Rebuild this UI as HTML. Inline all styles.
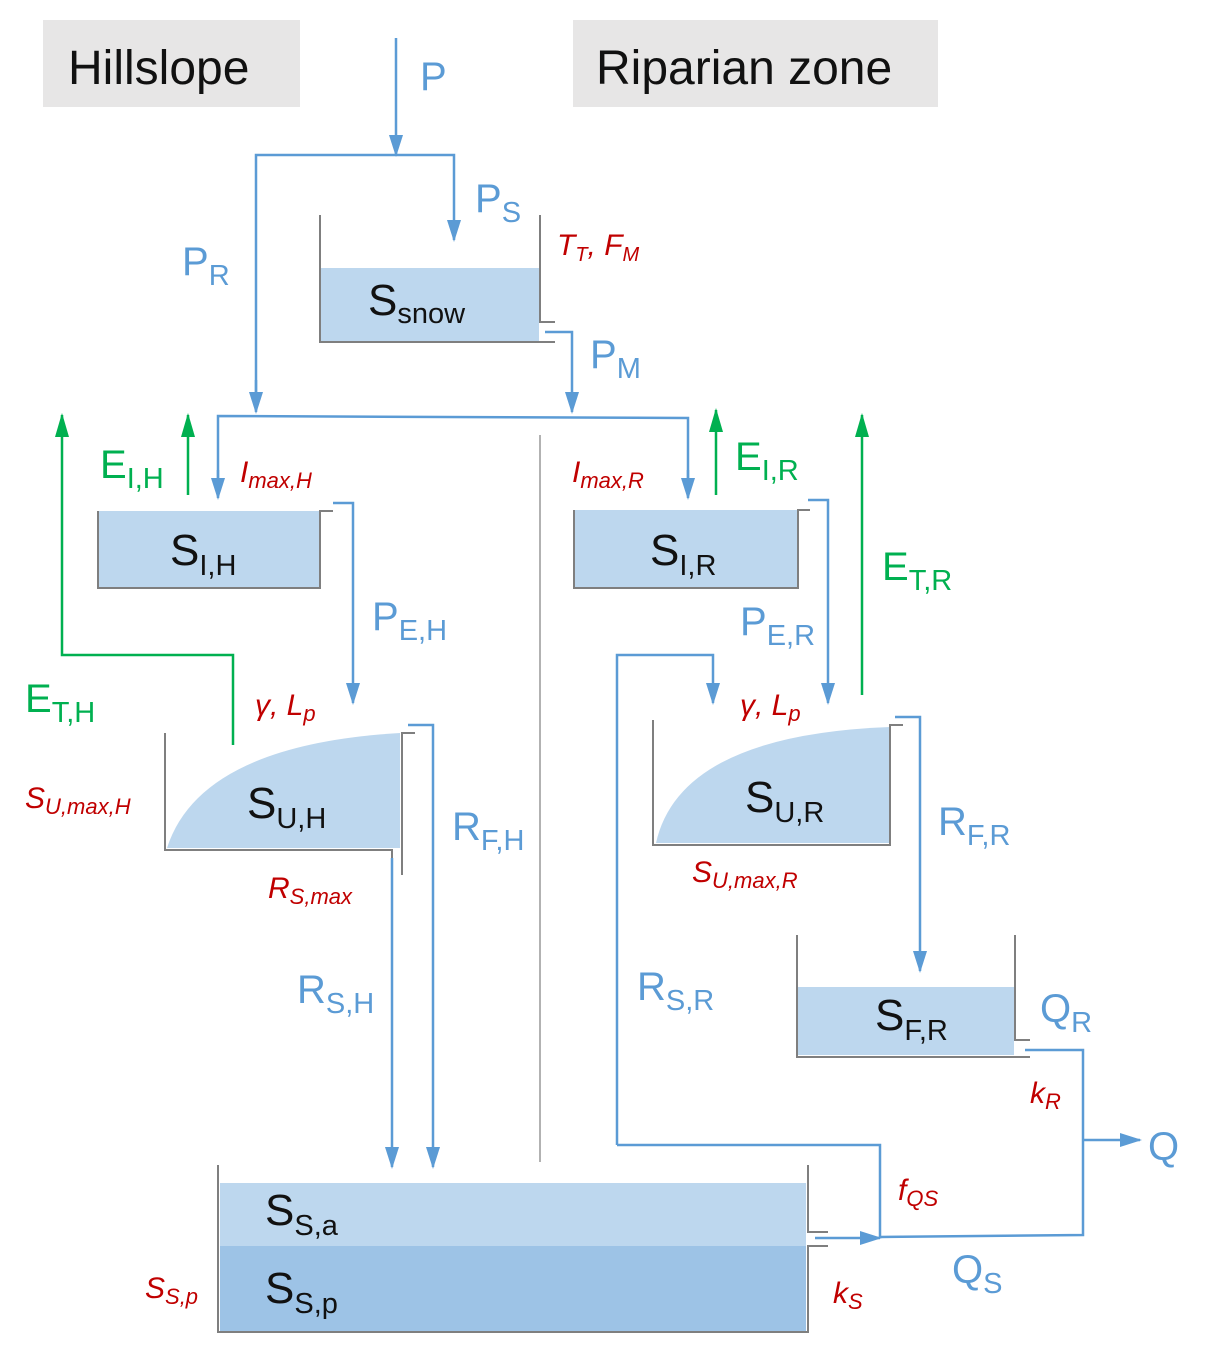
<!DOCTYPE html>
<html><head><meta charset="utf-8"><style>
html,body{margin:0;padding:0;background:#fff;}
svg{display:block;font-family:"Liberation Sans",sans-serif;}
.b{stroke:#5b9bd5;stroke-width:2.5;fill:none}
.g{stroke:#00b050;stroke-width:2.5;fill:none}
.k{stroke:#7f7f7f;stroke-width:2;fill:none}
.tb{fill:#5b9bd5;font-size:40px}
.tg{fill:#00b050;font-size:40px}
.tr{fill:#c00000;font-size:30px;font-style:italic}
.tk{fill:#111;font-size:44px}
.s{font-size:29px}
</style></head><body>
<svg width="1211" height="1363" viewBox="0 0 1211 1363">
<defs>
<marker id="ab" markerWidth="22" markerHeight="14" refX="20" refY="7" orient="auto" markerUnits="userSpaceOnUse" viewBox="0 0 22 14"><path d="M0,0 L22,7 L0,14 z" fill="#5b9bd5"/></marker>
<marker id="ag" markerWidth="24" markerHeight="14" refX="22" refY="7" orient="auto" markerUnits="userSpaceOnUse" viewBox="0 0 24 14"><path d="M0,0 L24,7 L0,14 z" fill="#00b050"/></marker>
</defs>
<rect x="43" y="20" width="257" height="87" fill="#e7e6e6"/>
<text x="68" y="84" font-size="48" fill="#111">Hillslope</text>
<rect x="573" y="20" width="365" height="87" fill="#e7e6e6"/>
<text x="596" y="84" font-size="48" fill="#111">Riparian zone</text>

<line class="b" x1="396" y1="38" x2="396" y2="155" marker-end="url(#ab)"/>
<text class="tb" x="420" y="90">P</text>
<polyline class="b" points="256,410 256,155 454,155 454,240" marker-end="url(#ab)"/>
<line class="b" x1="256" y1="380" x2="256" y2="412" marker-end="url(#ab)"/>
<text class="tb" x="475" y="212">P<tspan class="s" dy="10">S</tspan></text>
<text class="tb" x="182" y="275">P<tspan class="s" dy="10">R</tspan></text>

<rect x="321" y="268" width="218" height="73" fill="#bdd7ee"/>
<polyline class="k" points="320,215 320,342 555,342"/>
<polyline class="k" points="540,215 540,322 555,322"/>
<text class="tk" x="368" y="315">S<tspan class="s" dy="8" font-size="31">snow</tspan></text>
<text class="tr" x="557" y="255">T<tspan font-size="20" dy="6">T</tspan><tspan dy="-6">, F</tspan><tspan font-size="20" dy="6">M</tspan></text>
<polyline class="b" points="545,332 572,332 572,412" marker-end="url(#ab)"/>
<text class="tb" x="590" y="368">P<tspan class="s" dy="10">M</tspan></text>

<polyline class="b" points="218,495 218,416 688,418 688,495"/>
<line class="b" x1="218" y1="470" x2="218" y2="498" marker-end="url(#ab)"/>
<line class="b" x1="688" y1="470" x2="688" y2="498" marker-end="url(#ab)"/>
<line x1="540" y1="435" x2="540" y2="1162" stroke="#999" stroke-width="1.5"/>

<rect x="99" y="511" width="220" height="76" fill="#bdd7ee"/>
<polyline class="k" points="98,511 98,588 320,588 320,511 333,511"/>
<text class="tk" x="170" y="565">S<tspan class="s" dy="10" font-size="31">I,H</tspan></text>
<line class="g" x1="188" y1="495" x2="188" y2="415" marker-end="url(#ag)"/>
<polyline class="g" points="233,745 233,655 62,655 62,415" marker-end="url(#ag)"/>
<text class="tg" x="100" y="478">E<tspan class="s" dy="10">I,H</tspan></text>
<text class="tr" x="240" y="482">I<tspan font-size="22" dy="6">max,H</tspan></text>
<polyline class="b" points="333,503 353,503 353,703" marker-end="url(#ab)"/>
<text class="tb" x="372" y="630">P<tspan class="s" dy="10">E,H</tspan></text>
<text class="tg" x="25" y="712">E<tspan class="s" dy="10">T,H</tspan></text>
<text class="tr" x="255" y="715">γ, L<tspan font-size="22" dy="6">p</tspan></text>

<path d="M167,848 Q200,745 400,733 L400,848 Z" fill="#bdd7ee"/>
<polyline class="k" points="165,733 165,850 392,850 392,875"/>
<polyline class="k" points="415,733 402,733 402,875"/>
<text class="tk" x="247" y="818">S<tspan class="s" dy="10" font-size="31">U,H</tspan></text>
<text class="tr" x="25" y="808">S<tspan font-size="22" dy="6">U,max,H</tspan></text>
<text class="tr" x="268" y="898">R<tspan font-size="22" dy="6">S,max</tspan></text>
<polyline class="b" points="408,725 433,725 433,1167" marker-end="url(#ab)"/>
<line class="b" x1="392" y1="858" x2="392" y2="1167" marker-end="url(#ab)"/>
<text class="tb" x="452" y="840">R<tspan class="s" dy="10">F,H</tspan></text>
<text class="tb" x="297" y="1003">R<tspan class="s" dy="10">S,H</tspan></text>

<rect x="575" y="510" width="222" height="77" fill="#bdd7ee"/>
<polyline class="k" points="574,510 574,588 798,588 798,510 810,510"/>
<text class="tk" x="650" y="565">S<tspan class="s" dy="10" font-size="31">I,R</tspan></text>
<text class="tr" x="572" y="482">I<tspan font-size="22" dy="6">max,R</tspan></text>
<line class="g" x1="716" y1="495" x2="716" y2="410" marker-end="url(#ag)"/>
<text class="tg" x="735" y="470">E<tspan class="s" dy="10">I,R</tspan></text>
<line class="g" x1="862" y1="695" x2="862" y2="415" marker-end="url(#ag)"/>
<text class="tg" x="882" y="580">E<tspan class="s" dy="10">T,R</tspan></text>
<polyline class="b" points="808,500 828,500 828,703" marker-end="url(#ab)"/>
<text class="tb" x="740" y="635">P<tspan class="s" dy="10">E,R</tspan></text>
<polyline class="b" points="617,1145 617,655 713,655 713,703" marker-end="url(#ab)"/>
<text class="tr" x="740" y="715">γ, L<tspan font-size="22" dy="6">p</tspan></text>

<path d="M656,843 Q680,735 890,727 L890,843 Z" fill="#bdd7ee"/>
<polyline class="k" points="653,720 653,845 890,845 890,725 903,725"/>
<text class="tk" x="745" y="812">S<tspan class="s" dy="10" font-size="31">U,R</tspan></text>
<text class="tr" x="692" y="882">S<tspan font-size="22" dy="6">U,max,R</tspan></text>
<polyline class="b" points="895,717 920,717 920,971" marker-end="url(#ab)"/>
<text class="tb" x="938" y="835">R<tspan class="s" dy="10">F,R</tspan></text>
<text class="tb" x="637" y="1000">R<tspan class="s" dy="10">S,R</tspan></text>

<rect x="798" y="987" width="216" height="68" fill="#bdd7ee"/>
<polyline class="k" points="797,935 797,1057 1030,1057"/>
<polyline class="k" points="1015,935 1015,1040 1030,1040"/>
<text class="tk" x="875" y="1030">S<tspan class="s" dy="10" font-size="31">F,R</tspan></text>
<text class="tb" x="1040" y="1022">Q<tspan class="s" dy="10">R</tspan></text>
<text class="tr" x="1030" y="1103">k<tspan font-size="22" dy="6">R</tspan></text>
<polyline class="b" points="1025,1050 1083,1050 1083,1235 880,1237"/>
<line class="b" x1="1083" y1="1140" x2="1140" y2="1140" marker-end="url(#ab)"/>
<text class="tb" x="1148" y="1160" font-size="46">Q</text>
<polyline class="b" points="617,1145 880,1145 880,1237"/>
<line class="b" x1="815" y1="1238" x2="880" y2="1238" marker-end="url(#ab)"/>
<text class="tr" x="898" y="1200">f<tspan font-size="22" dy="6">QS</tspan></text>
<text class="tb" x="952" y="1283">Q<tspan class="s" dy="10">S</tspan></text>

<rect x="220" y="1183" width="586" height="63" fill="#bdd7ee"/>
<rect x="220" y="1246" width="586" height="85" fill="#9dc3e6"/>
<polyline class="k" points="218,1165 218,1332 808,1332 808,1246 828,1246"/>
<polyline class="k" points="808,1165 808,1232 828,1232"/>
<text class="tk" x="265" y="1225">S<tspan class="s" dy="10" font-size="31">S,a</tspan></text>
<text class="tk" x="265" y="1303">S<tspan class="s" dy="10" font-size="31">S,p</tspan></text>
<text class="tr" x="145" y="1298">S<tspan font-size="22" dy="6">S,p</tspan></text>
<text class="tr" x="833" y="1303">k<tspan font-size="22" dy="6">S</tspan></text>
</svg>
</body></html>
